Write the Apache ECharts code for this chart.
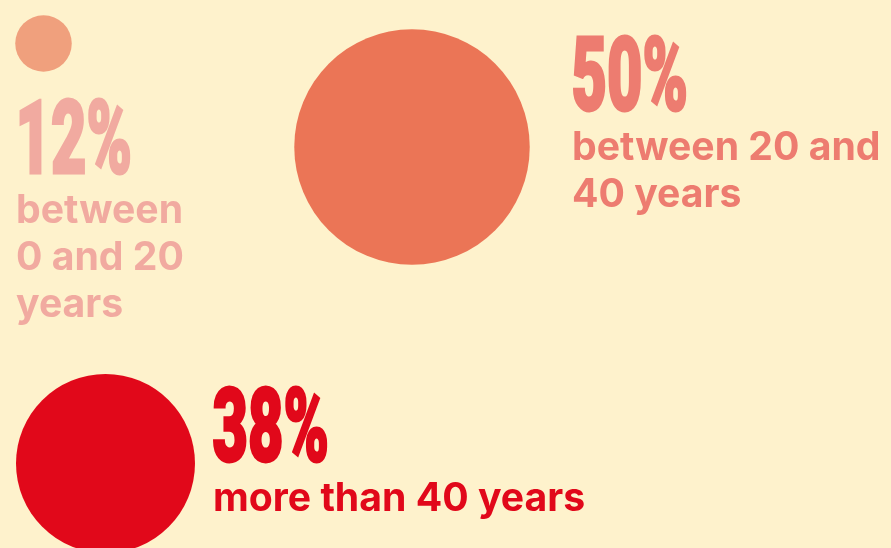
<!DOCTYPE html>
<html>
<head>
<meta charset="utf-8">
<script src="https://cdn.jsdelivr.net/npm/echarts@6/dist/echarts.min.js"></script>
<style>
  html, body { margin: 0; padding: 0; background: #FEF2CC; }
  #chart { width: 891px; height: 548px; }
</style>
</head>
<body>
<div id="chart"></div>
<script>
// Age groups and their share of the total (percent)
const categories = ['between 0 and 20 years', 'between 20 and 40 years', 'more than 40 years'];
const shares = [12, 50, 38];

// Layout in canvas units (x right, y down): bubble centres and label anchors
const bubbleCenters = [[43.5, 43.5], [412, 147], [105.5, 463.5]];
const labelOrigins = [[15, 175], [571, 112], [212, 463]];   // left edge, baseline of the big figure
const labelWrapWidths = [185, 340, 420];

// Styles
const bubbleColors = ['#F0A07D', '#EB7556', '#E1081A'];
const labelColors = ['#F1AAA0', '#ED7C70', '#E1081A'];
const DIAMETER_PER_POINT = 4.71;       // bubble diameter in px per percentage point
const FIGURE_FONT_SIZE = 102;
const FIGURE_SCALE_X = 0.6;            // condense the big figures
const FIGURE_STROKE = 3;               // extra weight for the figures
const TEXT_FONT_SIZE = 39.2;
const TEXT_LINE_HEIGHT = 47;

const chart = echarts.init(document.getElementById('chart'));

chart.setOption({
  backgroundColor: '#FEF2CC',
  animation: false,
  grid: { left: 0, right: 0, top: 0, bottom: 0 },
  xAxis: { type: 'value', min: 0, max: 891, show: false },
  yAxis: { type: 'value', min: 0, max: 548, inverse: true, show: false },
  series: [
    {
      type: 'scatter',
      clip: false,
      symbol: 'circle',
      data: shares.map((v, i) => ({
        value: [bubbleCenters[i][0], bubbleCenters[i][1], v],
        itemStyle: { color: bubbleColors[i] }
      })),
      symbolSize: (val) => val[2] * DIAMETER_PER_POINT,
      itemStyle: { opacity: 1 },
      emphasis: { disabled: true }
    },
    {
      type: 'custom',
      coordinateSystem: 'cartesian2d',
      data: shares.map((v, i) => [labelOrigins[i][0], labelOrigins[i][1], v]),
      renderItem: (params, api) => {
        const i = params.dataIndex;
        const p = api.coord([api.value(0), api.value(1)]);
        const color = labelColors[i];
        return {
          type: 'group',
          children: [
            {
              type: 'text',
              x: p[0] + 0.5,
              y: p[1] - 0.29 * FIGURE_FONT_SIZE + 2,
              scaleX: FIGURE_SCALE_X,
              style: {
                text: api.value(2) + '%',
                font: '900 ' + FIGURE_FONT_SIZE + 'px Roboto',
                fill: color,
                stroke: color,
                lineWidth: FIGURE_STROKE,
                lineJoin: 'round',
                align: 'left',
                verticalAlign: 'middle',
                lineHeight: FIGURE_FONT_SIZE
              }
            },
            {
              type: 'text',
              x: p[0] + 1,
              y: p[1] + 48 - (TEXT_LINE_HEIGHT / 2 + 0.3 * TEXT_FONT_SIZE),
              style: {
                text: categories[i],
                font: '700 ' + TEXT_FONT_SIZE + 'px Inter',
                fill: color,
                align: 'left',
                verticalAlign: 'top',
                lineHeight: TEXT_LINE_HEIGHT,
                width: labelWrapWidths[i],
                overflow: 'break'
              }
            }
          ]
        };
      }
    }
  ]
});
</script>
</body>
</html>
